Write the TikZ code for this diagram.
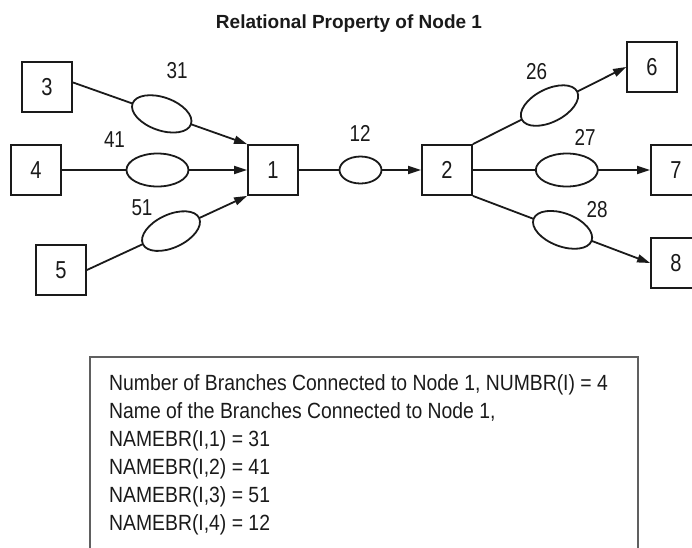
\documentclass[tikz,border=0pt]{standalone}
\usepackage{fontspec}
\setmainfont{Liberation Sans}
\newfontfamily\narrowsans{Liberation Sans}[FakeStretch=0.82]
\newfontfamily\notesans{Liberation Sans}[FakeStretch=0.88]
\usetikzlibrary{arrows.meta,shapes.geometric}

\definecolor{ink}{HTML}{1A1A1A}
\definecolor{frame}{HTML}{606060}

\tikzset{
  busbox/.style={draw=ink, line width=1.8pt, minimum width=50pt, minimum height=50pt,
    inner sep=0pt, text=ink, font=\narrowsans\fontsize{24.5}{24.5}\selectfont},
  branch/.style={draw=ink, ellipse, fill=white, line width=1.8pt, minimum width=62pt,
    minimum height=33pt, inner sep=0pt, sloped},
  shortbranch/.style={branch, minimum width=42pt, minimum height=27pt},
  link/.style={draw=ink, line width=1.8pt, -{Triangle[length=13pt,width=8pt]}},
  branchlabel/.style={inner sep=0pt, text=ink, font=\narrowsans\fontsize{23}{23}\selectfont},
}

\begin{document}
\begin{tikzpicture}[x=1pt, y=-1pt]
  \useasboundingbox (0,0) rectangle (692,547);
  \clip (0,0) rectangle (692,547);

  % title
  \node[anchor=base, inner sep=0pt, text=ink, font=\fontsize{19}{19}\selectfont\bfseries]
    (title) at (349,28) {Relational Property of Node 1};

  % buses
  \node[busbox] (b1) at (273,170) {1};
  \node[busbox] (b2) at (447,170) {2};
  \node[busbox] (b3) at (47,87) {3};
  \node[busbox] (b4) at (36,170) {4};
  \node[busbox] (b5) at (61,270) {5};
  \node[busbox] (b6) at (652,67) {6};
  \node[busbox] (b7) at (676,170) {7};
  \node[busbox] (b8) at (676,263) {8};

  % branches into node 1
  \path[link] (b3.10) -- node[branch, pos=0.51] (e31) {} (b1.north west);
  \path[link] (b4.east) -- node[branch, pos=0.516] (e41) {} (b1.west);
  \path[link] (b5.east) -- node[branch, pos=0.525] (e51) {} (b1.south west);

  % branch from node 1 to node 2
  \path[link] (b1.east) -- node[shortbranch, pos=0.504] (e12) {} (b2.west);

  % branches out of node 2
  \path[link] (b2.north east) -- node[branch, pos=0.5] (e26) {} (b6.west);
  \path[link] (b2.east) -- node[branch, pos=0.53] (e27) {} (b7.west);
  \path[link] (b2.south east) -- node[branch, pos=0.506] (e28) {} (b8.west);

  % branch numbers
  \node[branchlabel] (l31) at (177,71) {31};
  \node[branchlabel] (l41) at (114.5,139.5) {41};
  \node[branchlabel] (l51) at (142,207.5) {51};
  \node[branchlabel] (l12) at (360,133.5) {12};
  \node[branchlabel] (l26) at (536.5,71.5) {26};
  \node[branchlabel] (l27) at (585,137.5) {27};
  \node[branchlabel] (l28) at (597,210) {28};

  % note panel
  \draw[frame, line width=1.8pt] (90,357) rectangle (638,570);
  \node[anchor=north west, inner sep=0pt, align=left, text=ink,
        font=\notesans\fontsize{22}{28}\selectfont] (note) at (109,374)
    {Number of Branches Connected to Node 1, NUMBR(I) = 4\\
     Name of the Branches Connected to Node 1,\\
     NAMEBR(I,1) = 31\\
     NAMEBR(I,2) = 41\\
     NAMEBR(I,3) = 51\\
     NAMEBR(I,4) = 12};
\end{tikzpicture}
\end{document}
